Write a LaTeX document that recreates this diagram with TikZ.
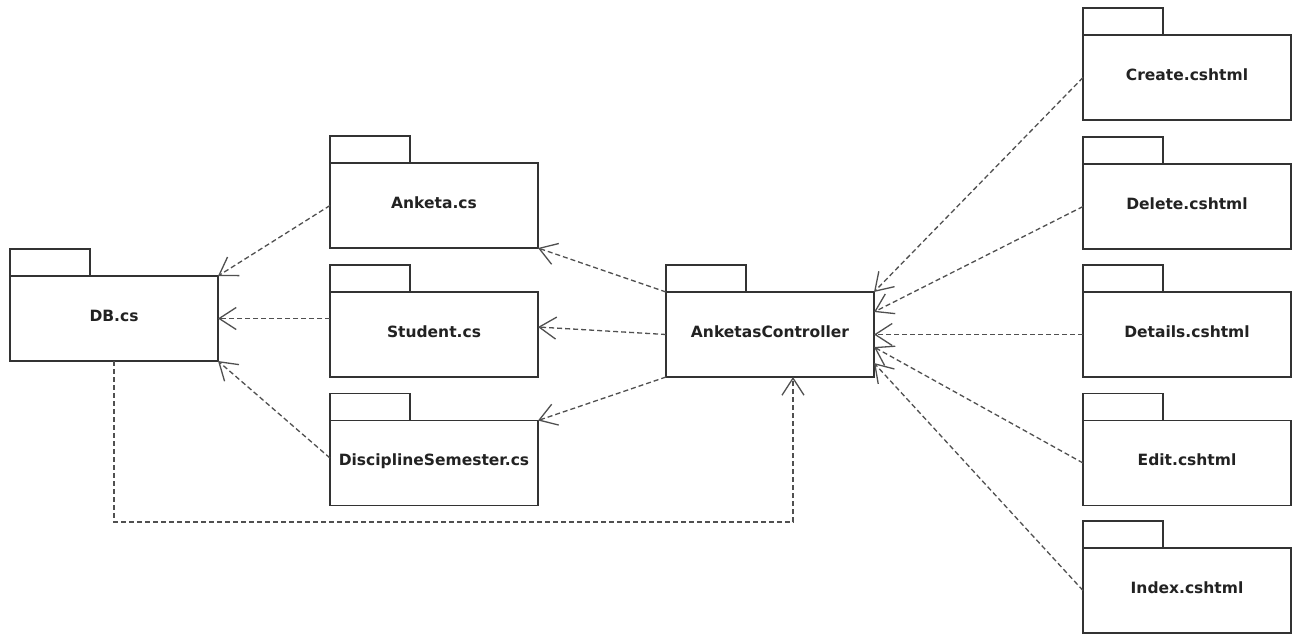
\documentclass[tikz,border=0pt]{standalone}
\usepackage{fontspec}
\setmainfont{DejaVu Sans}
\usetikzlibrary{arrows.meta,calc}
\definecolor{boxline}{HTML}{333333}
\definecolor{depline}{HTML}{505050}
\definecolor{ink}{HTML}{222222}
\tikzset{
  pkg/.style={draw=boxline, line width=1.5pt, fill=white,
    minimum width=208pt, minimum height=85pt, inner sep=0pt, outer sep=0pt,
    text height=11pt, text depth=6pt,
    font=\fontsize{15.5}{18}\selectfont\bfseries, text=ink},
  pkgtab/.style={draw=boxline, line width=1.5pt, fill=white},
  dep/.style={draw=depline, line width=1.3pt, dash pattern=on 5pt off 3pt,
    -{Straight Barb[length=17pt,width=22pt]}},
}
% folder tab sitting on the top-left corner of a package body
\newcommand{\pkgtabfor}[1]{\draw[pkgtab] (#1.north west) rectangle ++(80,-27);}
\begin{document}
\begin{tikzpicture}[x=1pt,y=-1pt]
\fill[white] (0,0) rectangle (1301,633);
\useasboundingbox (0,0) rectangle (1301,633);

% package bodies
\node[pkg] (db)      at (114,318.5)  {DB.cs};
\node[pkg] (anketa)  at (434,205.5)  {Anketa.cs};
\node[pkg] (student) at (434,334.5)  {Student.cs};
\node[pkg] (disc)    at (434,463)    {DisciplineSemester.cs};
\node[pkg] (ctrl)    at (770,334.5)  {AnketasController};
\node[pkg] (create)  at (1187,77.5)  {Create.cshtml};
\node[pkg] (delete)  at (1187,206.5) {Delete.cshtml};
\node[pkg] (details) at (1187,334.5) {Details.cshtml};
\node[pkg] (edit)    at (1187,463)   {Edit.cshtml};
\node[pkg] (index)   at (1187,590.5) {Index.cshtml};

% package tabs
\foreach \p in {db,anketa,student,disc,ctrl,create,delete,details,edit,index}
  {\pkgtabfor{\p}}

% model dependencies on the database context
\draw[dep] (anketa.west) -- (db.north east);
\draw[dep] ($(student.west)+(0,-16)$) -- (db.east);
\draw[dep] ($(disc.west)+(0,-5)$) -- (db.south east);

% controller dependencies on the models
\draw[dep] (ctrl.north west) -- (anketa.south east);
\draw[dep] (ctrl.west) -- ($(student.east)+(0,-7.5)$);
\draw[dep] (ctrl.south west) -- (disc.north east);

% database context used by the controller
\draw[dep] (db.south) -- ++(0,161) -| ($(ctrl.south)+(23,0)$);

% views depending on the controller
\draw[dep] (create.west) -- (ctrl.north east);
\draw[dep] (delete.west) -- ($(ctrl.north east)+(0,20)$);
\draw[dep] (details.west) -- (ctrl.east);
\draw[dep] (edit.west) -- ($(ctrl.east)+(0,12.5)$);
\draw[dep] (index.west) -- ($(ctrl.east)+(0,28.5)$);
\end{tikzpicture}
\end{document}
